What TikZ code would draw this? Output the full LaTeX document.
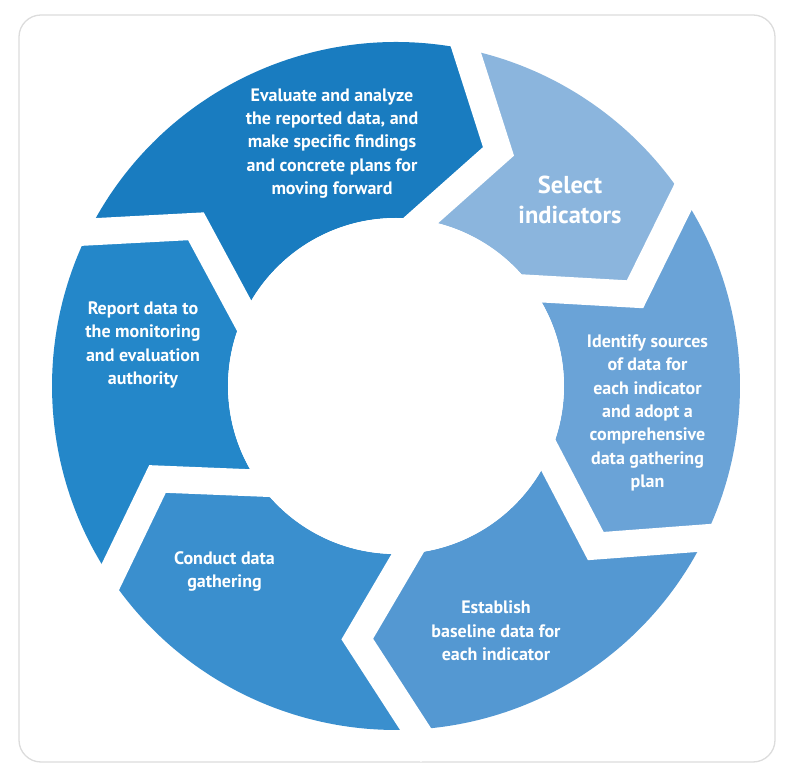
\documentclass[tikz,border=0pt]{standalone}
\usepackage{fontspec}
\newfontfamily\labfont{PT Sans}
\usetikzlibrary{calc}
\definecolor{cSelect}{HTML}{8BB5DD}
\definecolor{cIdentify}{HTML}{6AA3D7}
\definecolor{cEstablish}{HTML}{5498D2}
\definecolor{cConduct}{HTML}{3A8FCE}
\definecolor{cReport}{HTML}{2487C9}
\definecolor{cEvaluate}{HTML}{197CC0}
\definecolor{cFrame}{HTML}{DCDCDC}
\tikzset{
  seglabel/.style={text=white, align=center, font=\labfont\bfseries\fontsize{18}{23.3}\selectfont, inner sep=0pt},
  biglabel/.style={text=white, align=center, font=\labfont\bfseries\fontsize{24.5}{30}\selectfont, inner sep=0pt},
  gapline/.style={white, line width=27pt, line join=miter, miter limit=20, shorten <=-30pt, shorten >=-30pt},
}
\newcommand{\ringseg}[8]{%
  % #1 colour, #2 start outer, #3 start vertex, #4 start inner, #5 end outer, #6 end vertex, #7 end inner, #8 name
  \fill[#1] (#2:344) arc[start angle=#2, end angle=#5, radius=344]
    -- (#6:256) -- (#7:168) arc[start angle=#7, end angle=#4, radius=168]
    -- (#3:256) -- cycle;
}
\begin{document}
\begin{tikzpicture}[x=1pt,y=1pt]
\useasboundingbox (-396,-390) rectangle (394,386);
\draw[cFrame, line width=1.3pt, rounded corners=22pt] (-377,-376) rectangle (379,371);
\coordinate (ctr) at (0,0);
% segments (clockwise)
\ringseg{cEvaluate}{153.4}{141.4}{155.0}{78.3}{66.4}{81.3}{evaluate}
\ringseg{cSelect}{78.3}{66.4}{81.3}{33.4}{21.0}{35.5}{select}
\ringseg{cIdentify}{33.4}{21.0}{35.5}{-26.2}{-38.7}{-24.6}{identify}
\ringseg{cEstablish}{-26.2}{-38.7}{-24.6}{-86.7}{-98.7}{-86.1}{establish}
\ringseg{cConduct}{-86.7}{-98.7}{-86.1}{-146.2}{-158.7}{-144.7}{conduct}
\ringseg{cReport}{-146.2}{-158.7}{-144.7}{-206.6}{-218.6}{-205.0}{report}
% white gaps between segments
\coordinate (o1) at (78.3:344);   \coordinate (v1) at (66.4:256);   \coordinate (i1) at (81.3:168);
\coordinate (o2) at (33.4:344);   \coordinate (v2) at (21.0:256);   \coordinate (i2) at (35.5:168);
\coordinate (o3) at (-26.2:344);  \coordinate (v3) at (-38.7:256);  \coordinate (i3) at (-24.6:168);
\coordinate (o4) at (-86.7:344);  \coordinate (v4) at (-98.7:256);  \coordinate (i4) at (-86.1:168);
\coordinate (o5) at (-146.2:344); \coordinate (v5) at (-158.7:256); \coordinate (i5) at (-144.7:168);
\coordinate (o6) at (153.4:344);  \coordinate (v6) at (141.4:256);  \coordinate (i6) at (155.0:168);
\foreach \k in {1,...,6} {
  \draw[gapline] (o\k) -- (v\k) -- (i\k);
}
\fill[white] (ctr) circle[radius=168];
% labels
\node[seglabel] (tEvaluate) at (-64,242.5) {Evaluate and analyze\\the reported data, and\\make specific findings\\and concrete plans for\\moving forward};
\node[biglabel] (tSelect) at (174,186) {Select\\indicators};
\node[seglabel] (tIdentify) at (251.5,-27) {Identify sources\\of data for\\each indicator\\and adopt a\\comprehensive\\data gathering\\plan};
\node[seglabel] (tEstablish) at (100,-245) {Establish\\baseline data for\\each indicator};
\node[seglabel] (tConduct) at (-171.5,-185.5) {Conduct data\\gathering};
\node[seglabel] (tReport) at (-253,41) {Report data to\\the monitoring\\and evaluation\\authority};
\end{tikzpicture}
\end{document}
